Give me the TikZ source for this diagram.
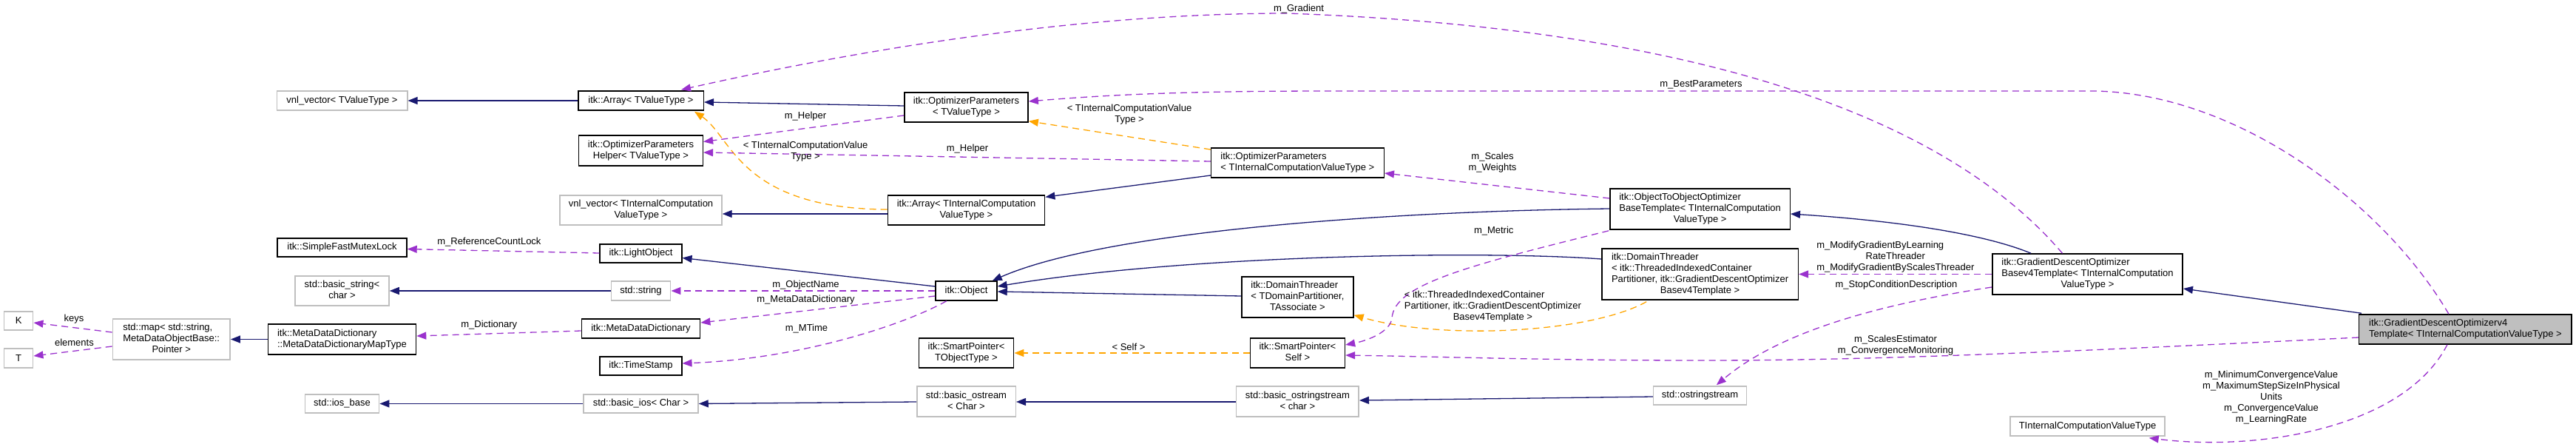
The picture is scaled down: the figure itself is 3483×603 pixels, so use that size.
\documentclass[tikz,border=0pt]{standalone}
\usepackage{fontspec}
\setmainfont{Liberation Sans}
\usetikzlibrary{arrows.meta,calc}
\definecolor{inhc}{HTML}{191970}
\definecolor{usec}{HTML}{9A32CD}
\definecolor{tplc}{HTML}{FFA500}
\definecolor{grayb}{HTML}{BFBFBF}
\newcommand{\LastC}[2]{\begin{tabular}{@{}l@{}}#1\\\multicolumn{1}{@{}c@{}}{#2}\end{tabular}}
\newcommand{\AllC}[1]{\begin{tabular}{@{}c@{}}#1\end{tabular}}
\tikzset{
  cls/.style={draw=black, line width=1.5pt, fill=white, inner sep=0pt},
  ext/.style={draw=grayb, line width=1.5pt, fill=white, inner sep=0pt},
  inh/.style={draw=inhc, line width=1.3pt, -{Triangle[length=13pt,width=10pt]}},
  use/.style={draw=usec, line width=1.3pt, dash pattern=on 9pt off 6pt, -{Triangle[length=13pt,width=10pt]}},
  tpl/.style={draw=tplc, line width=1.3pt, dash pattern=on 9pt off 6pt, -{Triangle[length=13pt,width=10pt]}},
  lab/.style={inner sep=0pt}
}
\begin{document}
\begin{tikzpicture}[x=1pt, y=-1pt, every node/.style={font=\fontsize{13pt}{15pt}\selectfont}]
\useasboundingbox (0,0) rectangle (3483,603);
% ---------- nodes ----------
\node[ext, minimum width=176.5pt, minimum height=26pt] (vnlA) at (462.5,136) {vnl\_vector< TValueType >};
\node[cls, minimum width=169.5pt, minimum height=26pt] (arrA) at (866.5,136) {itk::Array< TValueType >};
\node[cls, minimum width=167.6pt, minimum height=41pt] (helper) at (866.5,203.5) {\LastC{itk::OptimizerParameters}{Helper< TValueType >}};
\node[ext, minimum width=218.9pt, minimum height=40pt] (vnlB) at (866.5,284) {\LastC{vnl\_vector< TInternalComputation}{ValueType >}};
\node[cls, minimum width=167.2pt, minimum height=40pt] (op1) at (1306.5,145) {\LastC{itk::OptimizerParameters}{< TValueType >}};
\node[cls, minimum width=233.7pt, minimum height=40pt] (op2) at (1754.4,220) {\LastC{itk::OptimizerParameters}{< TInternalComputationValueType >}};
\node[cls, minimum width=212.3pt, minimum height=40pt] (arrB) at (1306.5,284) {\LastC{itk::Array< TInternalComputation}{ValueType >}};
\node[cls, minimum width=174.9pt, minimum height=25pt] (sfml) at (462.5,334.5) {itk::SimpleFastMutexLock};
\node[ext, minimum width=127pt, minimum height=40pt] (bstr) at (462.5,393) {\LastC{std::basic\_string<}{char >}};
\node[ext, minimum width=39pt, minimum height=25pt] (K) at (25.2,433.5) {K};
\node[ext, minimum width=39pt, minimum height=26pt] (T) at (25.2,484) {T};
\node[ext, minimum width=158.8pt, minimum height=55pt] (map) at (231.7,458.5) {\LastC{std::map< std::string,\\MetaDataObjectBase::}{Pointer >}};
\node[cls, minimum width=200.1pt, minimum height=41pt] (mdmt) at (462.5,458.5) {\LastC{itk::MetaDataDictionary}{::MetaDataDictionaryMapType}};
\node[ext, minimum width=100.3pt, minimum height=25pt] (iosb) at (462.5,545.5) {std::ios\_base};
\node[cls, minimum width=110.6pt, minimum height=25pt] (light) at (866.5,342.5) {itk::LightObject};
\node[ext, minimum width=80.4pt, minimum height=26pt] (str) at (866.5,393) {std::string};
\node[cls, minimum width=160.3pt, minimum height=26pt] (mdd) at (866.5,444) {itk::MetaDataDictionary};
\node[cls, minimum width=110.6pt, minimum height=25pt] (ts) at (866.5,494.5) {itk::TimeStamp};
\node[ext, minimum width=155pt, minimum height=25pt] (bios) at (866.5,545.5) {std::basic\_ios< Char >};
\node[cls, minimum width=83pt, minimum height=26pt] (obj) at (1306.5,393) {itk::Object};
\node[cls, minimum width=128.2pt, minimum height=40pt] (sp1) at (1306.5,477) {\LastC{itk::SmartPointer<}{TObjectType >}};
\node[ext, minimum width=133.5pt, minimum height=41pt] (bos) at (1306.5,542.5) {\LastC{std::basic\_ostream}{< Char >}};
\node[cls, minimum width=151pt, minimum height=55pt] (dt1) at (1754.4,401.5) {\LastC{itk::DomainThreader\\< TDomainPartitioner,}{TAssociate >}};
\node[cls, minimum width=128pt, minimum height=40pt] (sp2) at (1754.4,477) {\LastC{itk::SmartPointer<}{Self >}};
\node[ext, minimum width=165.6pt, minimum height=41pt] (boss) at (1754.4,542.5) {\LastC{std::basic\_ostringstream}{< char >}};
\node[cls, minimum width=243.3pt, minimum height=55pt] (oto) at (2298.6,282.5) {\LastC{itk::ObjectToObjectOptimizer\\BaseTemplate< TInternalComputation}{ValueType >}};
\node[cls, minimum width=265.5pt, minimum height=69pt] (dt2) at (2298.6,370.5) {\LastC{itk::DomainThreader\\< itk::ThreadedIndexedContainer\\Partitioner, itk::GradientDescentOptimizer}{Basev4Template >}};
\node[ext, minimum width=126.1pt, minimum height=25pt] (oss) at (2298.6,534.5) {std::ostringstream};
\node[cls, minimum width=257.4pt, minimum height=55pt] (gdb) at (2822.5,370.5) {\LastC{itk::GradientDescentOptimizer\\Basev4Template< TInternalComputation}{ValueType >}};
\node[ext, minimum width=208.8pt, minimum height=26pt] (ticvt) at (2822.5,576) {TInternalComputationValueType};
\node[cls, fill=grayb, minimum width=287.5pt, minimum height=40pt] (main) at (3333.4,445) {\LastC{itk::GradientDescentOptimizerv4}{Template< TInternalComputationValueType >}};
% ---------- inheritance ----------
\draw[inh] (arrA.west) -- (vnlA.east);
\draw[inh] ($(op1.west)+(0,-2)$) -- ($(arrA.east)+(0,2)$);
\draw[inh] (mdmt.west) -- (map.east);
\draw[inh] ($(obj.west)+(0,-6)$) -- ($(light.east)+(0,6)$);
\draw[inh] (str.west) -- (bstr.east);
\draw[inh] (bios.west) -- (iosb.east);
\draw[inh] ($(bos.west)+(0,0.5)$) -- (bios.east);
\draw[inh] ($(arrB.west)+(0,5)$) -- ($(vnlB.east)+(0,5)$);
\draw[inh] ($(op2.west)+(0,17)$) -- ($(arrB.north east)+(0,3)$);
\draw[inh] ($(oto.west)+(0,-0.5)$) .. controls (1900,285) and (1500,310) .. ($(obj.north east)+(-7,0)$);
\draw[inh] ($(dt2.west)+(0,-20.5)$) .. controls (2000,338) and (1600,345) .. ($(obj.east)+(0,-6)$);
\draw[inh] ($(dt1.west)+(0,-1.5)$) -- ($(obj.east)+(0,1)$);
\draw[inh] ($(gdb.north west)+(53,0)$) .. controls (2680,315) and (2560,298) .. ($(oto.east)+(0,6.5)$);
\draw[inh] ($(main.north west)+(4,-1)$) -- ($(gdb.east)+(0,19.5)$);
\draw[inh] ($(boss.west)+(0,0.5)$) -- ($(bos.east)+(0,0.5)$);
\draw[inh] ($(oss.west)+(0,1.5)$) -- ($(boss.east)+(0,-1.5)$);
% ---------- template instances ----------
\draw[tpl] ($(op2.west)+(0,-18)$) -- ($(op1.south east)+(0,-2)$);
\draw[tpl] ($(arrB.west)+(0,-1)$) .. controls (1000,282) and (990,185) .. ($(arrA.south east)+(-13,1)$);
\draw[tpl] (sp2.west) -- (sp1.east);
\draw[tpl] ($(dt2.south west)+(61,2)$) .. controls (2150,450) and (1950,460) .. ($(dt1.south east)+(0,-4)$);
% ---------- usage ----------
\draw[use] ($(gdb.north)+(-34,0)$) .. controls (2650,180) and (2350,40) .. (1740,18) .. controls (1450,18) and (1150,70) .. ($(arrA.north east)+(-31,-1)$);
\draw[use] ($(main.north)+(-22.5,0)$) .. controls (3220,270) and (3020,125) .. (2830,123) -- (1800,123) .. controls (1600,123) and (1500,128) .. ($(op1.east)+(0,-8)$);
\draw[use] ($(light.west)+(0,-0.5)$) -- ($(sfml.east)+(0,2)$);
\draw[use] (obj.west) -- (str.east);
\draw[use] ($(obj.west)+(0,7)$) -- ($(mdd.east)+(0,-8)$);
\draw[use] ($(obj.south west)+(15.5,0)$) .. controls (1220,440) and (1080,485) .. ($(ts.east)+(0,-3.5)$);
\draw[use] ($(mdd.west)+(0,3)$) -- ($(mdmt.east)+(0,-4.5)$);
\draw[use] ($(map.west)+(0,-9.5)$) -- ($(K.east)+(0,2.5)$);
\draw[use] ($(map.west)+(0,9.5)$) -- ($(T.east)+(0,-3)$);
\draw[use] ($(op1.west)+(0,11)$) -- ($(helper.east)+(0,-12)$);
\draw[use] ($(op2.west)+(0,-2)$) -- ($(helper.east)+(0,2.5)$);
\draw[use] ($(oto.west)+(0,-14.5)$) -- ($(op2.east)+(0,14)$);
\draw[use] ($(oto.south west)+(-1,1)$) .. controls (1980,360) and (1885,385) .. (1882,430) .. controls (1880,448) and (1850,460) .. ($(sp2.east)+(0,-11)$);
\draw[use] ($(main.west)+(0,11)$) .. controls (2700,480) and (2500,487) .. (2300,487) .. controls (2100,487) and (1950,482) .. ($(sp2.east)+(0,3)$);
\draw[use] (gdb.west) -- (dt2.east);
\draw[use] ($(gdb.west)+(0,17.5)$) .. controls (2550,410) and (2410,445) .. ($(oss.north west)+(86,-1)$);
\draw[use] ($(main.south)+(-24.5,0)$) .. controls (3250,580) and (3050,610) .. ($(ticvt.south east)+(-22,2)$);
% ---------- labels ----------
\node[lab] (lHelperA) at (1089,157) {m\_Helper};
\node[lab] (lHelperB) at (1308,201) {m\_Helper};
\node[lab] (lTicA) at (1527,155) {\AllC{< TInternalComputationValue\\Type >}};
\node[lab] (lTicB) at (1089,204.5) {\AllC{< TInternalComputationValue\\Type >}};
\node[lab] (lSelf) at (1526,469) {< Self >};
\node[lab] (lDt) at (2018.4,414) {\LastC{< itk::ThreadedIndexedContainer\\Partitioner, itk::GradientDescentOptimizer}{Basev4Template >}};
\node[lab] (lGrad) at (1756,12) {m\_Gradient};
\node[lab] (lBest) at (2300,114) {m\_BestParameters};
\node[lab] (lRcl) at (661.4,327) {m\_ReferenceCountLock};
\node[lab] (lOn) at (1089.5,385) {m\_ObjectName};
\node[lab] (lMdd) at (1089.5,405) {m\_MetaDataDictionary};
\node[lab] (lMt) at (1090.5,444) {m\_MTime};
\node[lab] (lDict) at (661.3,439) {m\_Dictionary};
\node[lab] (lKeys) at (100,431) {keys};
\node[lab] (lEl) at (100.4,463) {elements};
\node[lab] (lSw) at (2018,220) {\AllC{m\_Scales\\m\_Weights}};
\node[lab] (lMetric) at (2019.7,312) {m\_Metric};
\node[lab] (lSe) at (2563,467) {\AllC{m\_ScalesEstimator\\m\_ConvergenceMonitoring}};
\node[lab] (lMod) at (2562.8,347.6) {\begin{tabular}{@{}c@{}}\multicolumn{1}{@{}l@{}}{m\_ModifyGradientByLearning}\\RateThreader\\m\_ModifyGradientByScalesThreader\end{tabular}};
\node[lab] (lStop) at (2564,385) {m\_StopConditionDescription};
\node[lab] (lConv) at (3071,537) {\AllC{m\_MinimumConvergenceValue\\m\_MaximumStepSizeInPhysical\\Units\\m\_ConvergenceValue\\m\_LearningRate}};
\end{tikzpicture}
\end{document}
